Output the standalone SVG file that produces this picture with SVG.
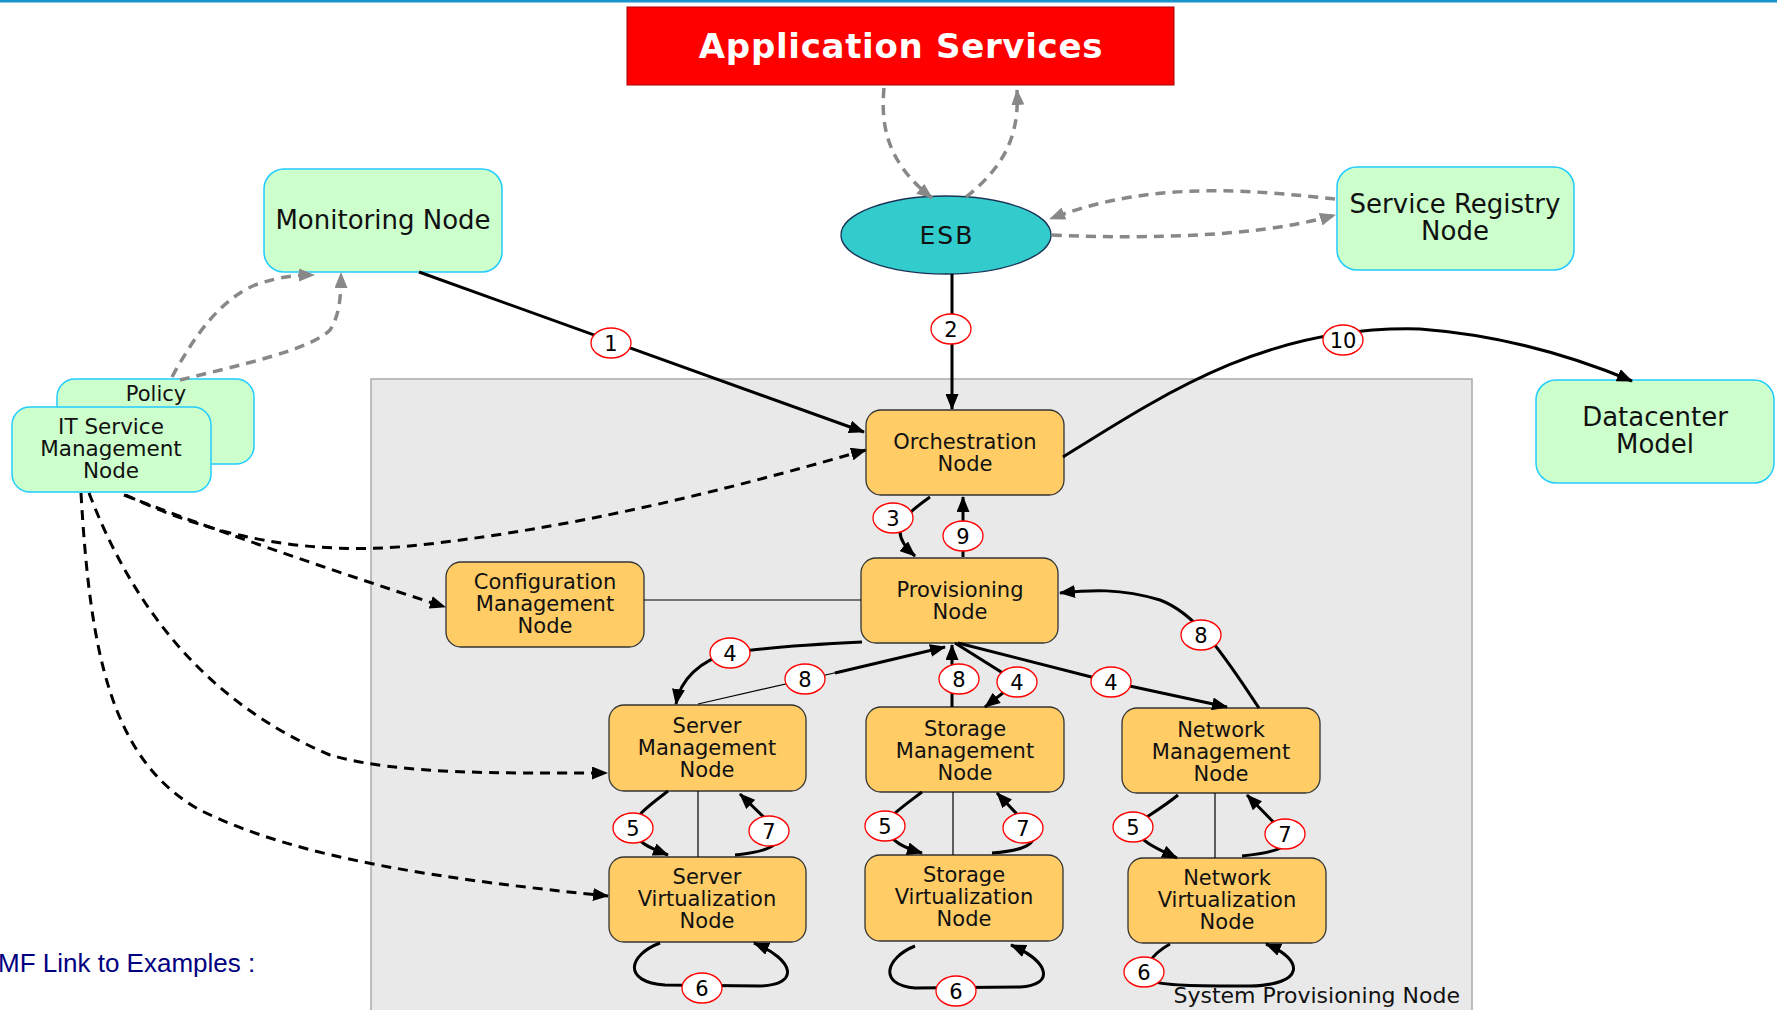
<svg xmlns="http://www.w3.org/2000/svg" width="1777" height="1010" viewBox="0 0 1777 1010">
  <style>
    .t { font-family: "DejaVu Sans", "Liberation Sans", sans-serif; font-size: 21px; text-anchor: middle; fill: #111; }
    .tg { font-size: 26px; }
    .on { fill: #ffcc66; stroke: #333; stroke-width: 1.3; }
    .gn { fill: #ccffcc; stroke: #22ccff; stroke-width: 1.5; }
    .e { fill: none; stroke: #000; stroke-width: 3; }
    .thin { fill: none; stroke: #000; stroke-width: 1.2; }
    .d { fill: none; stroke: #000; stroke-width: 3; stroke-dasharray: 10 7; }
    .g { fill: none; stroke: #888; stroke-width: 3.5; stroke-dasharray: 10 7; }
    .lb ellipse { fill: #fff; stroke: #ff0000; stroke-width: 1.3; }
    .lb text { font-family: "DejaVu Sans", "Liberation Sans", sans-serif; font-size: 21px; text-anchor: middle; fill: #000; }
  </style>
  <defs>
    <marker id="ah" markerUnits="userSpaceOnUse" markerWidth="17" markerHeight="13" refX="15" refY="6.5" orient="auto">
      <path d="M0,0 L16,6.5 L0,13 z" fill="#000"/>
    </marker>
    <marker id="ahg" markerUnits="userSpaceOnUse" markerWidth="17" markerHeight="13" refX="15" refY="6.5" orient="auto">
      <path d="M0,0 L16,6.5 L0,13 z" fill="#888"/>
    </marker>
  </defs>

  <rect width="1777" height="1010" fill="#fff"/>
  <rect x="0" y="0" width="1777" height="2.5" fill="#1a94cc"/>

  <!-- system provisioning container -->
  <g id="system-provisioning">
    <rect x="371" y="379" width="1101" height="640" fill="#e9e9e9" stroke="#aaa" stroke-width="1.5"/>
    <text class="t" x="1460" y="1003" style="text-anchor:end;font-size:22px">System Provisioning Node</text>
  </g>

  <!-- outer nodes -->
  <g id="app-services">
    <rect x="627" y="7" width="547" height="78" fill="#ff0000" stroke="#aa0000" stroke-width="1"/>
    <text x="901" y="58" style="font-family:'DejaVu Sans','Liberation Sans',sans-serif;font-size:34px;letter-spacing:0.7px;font-weight:bold;fill:#fff;text-anchor:middle">Application Services</text>
  </g>
  <g id="esb">
    <ellipse cx="946" cy="235" rx="105" ry="39" fill="#33cccc" stroke="#1a3355" stroke-width="1.3"/>
    <text class="t" x="947" y="244" style="font-size:25px;letter-spacing:2px">ESB</text>
  </g>
  <g id="monitoring">
    <rect class="gn" x="264" y="169" width="238" height="103" rx="20"/>
    <text class="t tg" x="383" y="229">Monitoring Node</text>
  </g>
  <g id="service-registry">
    <rect class="gn" x="1337" y="167" width="237" height="103" rx="20"/>
    <text class="t tg" x="1455" y="213">Service Registry<tspan x="1455" dy="27">Node</tspan></text>
  </g>
  <g id="datacenter-model">
    <rect class="gn" x="1536" y="380" width="238" height="103" rx="20"/>
    <text class="t tg" x="1655" y="426">Datacenter<tspan x="1655" dy="27">Model</tspan></text>
  </g>
  <g id="policy">
    <rect class="gn" x="57" y="379" width="197" height="85" rx="18"/>
    <text class="t" x="156" y="401">Policy</text>
  </g>
  <g id="it-service-mgmt">
    <rect class="gn" x="12" y="407" width="199" height="85" rx="18"/>
    <text class="t" x="111" y="434" style="font-size:21.5px">IT Service<tspan x="111" dy="22">Management</tspan><tspan x="111" dy="22">Node</tspan></text>
  </g>

  <!-- provisioning nodes -->
  <g id="orchestration">
    <rect class="on" x="866" y="410" width="198" height="85" rx="15"/>
    <text class="t" x="965" y="449">Orchestration<tspan x="965" dy="22">Node</tspan></text>
  </g>
  <g id="provisioning">
    <rect class="on" x="861" y="558" width="197" height="85" rx="15"/>
    <text class="t" x="960" y="597">Provisioning<tspan x="960" dy="22">Node</tspan></text>
  </g>
  <g id="config-mgmt">
    <rect class="on" x="446" y="562" width="198" height="85" rx="15"/>
    <text class="t" x="545" y="589">Configuration<tspan x="545" dy="22">Management</tspan><tspan x="545" dy="22">Node</tspan></text>
  </g>
  <g id="server-mgmt">
    <rect class="on" x="609" y="705" width="197" height="86" rx="15"/>
    <text class="t" x="707" y="733">Server<tspan x="707" dy="22">Management</tspan><tspan x="707" dy="22">Node</tspan></text>
  </g>
  <g id="storage-mgmt">
    <rect class="on" x="866" y="707" width="198" height="85" rx="15"/>
    <text class="t" x="965" y="736">Storage<tspan x="965" dy="22">Management</tspan><tspan x="965" dy="22">Node</tspan></text>
  </g>
  <g id="network-mgmt">
    <rect class="on" x="1122" y="708" width="198" height="85" rx="15"/>
    <text class="t" x="1221" y="737">Network<tspan x="1221" dy="22">Management</tspan><tspan x="1221" dy="22">Node</tspan></text>
  </g>
  <g id="server-virt">
    <rect class="on" x="609" y="857" width="197" height="85" rx="15"/>
    <text class="t" x="707" y="884">Server<tspan x="707" dy="22">Virtualization</tspan><tspan x="707" dy="22">Node</tspan></text>
  </g>
  <g id="storage-virt">
    <rect class="on" x="865" y="855" width="198" height="86" rx="15"/>
    <text class="t" x="964" y="882">Storage<tspan x="964" dy="22">Virtualization</tspan><tspan x="964" dy="22">Node</tspan></text>
  </g>
  <g id="network-virt">
    <rect class="on" x="1128" y="858" width="198" height="85" rx="15"/>
    <text class="t" x="1227" y="885">Network<tspan x="1227" dy="22">Virtualization</tspan><tspan x="1227" dy="22">Node</tspan></text>
  </g>

  <!-- connectors -->
  <g id="connectors">
    <!-- grey service-bus traffic -->
    <path class="g" d="M884,88 C880,130 890,165 932,198" marker-end="url(#ahg)"/>
    <path class="g" d="M966,197 C1000,170 1020,140 1017,90" marker-end="url(#ahg)"/>
    <path class="g" d="M1335,199 C1250,190 1150,180 1050,219" marker-end="url(#ahg)"/>
    <path class="g" d="M1052,235 C1120,238 1250,240 1335,215" marker-end="url(#ahg)"/>
    <path class="g" d="M172,377 C195,335 220,300 255,285 C280,276 300,275 314,275" marker-end="url(#ahg)"/>
    <path class="g" d="M180,380 C240,365 310,350 330,330 C340,315 341,295 341,273" marker-end="url(#ahg)"/>

    <!-- IT service management links -->
    <path class="d" d="M126,495 C230,545 330,555 420,545 C600,525 760,480 866,450" marker-end="url(#ah)"/>
    <path class="d" d="M124,495 C200,525 330,570 445,607" marker-end="url(#ah)"/>
    <path class="d" d="M89,493 C130,600 200,700 330,755 C400,775 500,773 607,773" marker-end="url(#ah)"/>
    <path class="d" d="M81,493 C90,650 110,760 200,810 C300,860 450,880 608,896" marker-end="url(#ah)"/>

    <!-- numbered flow -->
    <path class="e" d="M419,272 L864,432" marker-end="url(#ah)"/>
    <path class="e" d="M952,274 L952,409" marker-end="url(#ah)"/>
    <path class="e" d="M930,497 C905,515 885,530 915,556" marker-end="url(#ah)"/>
    <path class="e" d="M963,557 L963,497" marker-end="url(#ah)"/>
    <path class="e" d="M1063,457 C1170,390 1270,325 1420,329 C1500,335 1570,355 1632,381" marker-end="url(#ah)"/>
    <path class="thin" d="M644,600 L861,600"/>

    <path class="e" d="M862,642 C800,645 760,648 730,653 C700,660 680,680 676,704" marker-end="url(#ah)"/>
    <path class="thin" d="M698,704 L843,671"/>
    <path class="e" d="M835,673 L945,647" marker-end="url(#ah)"/>
    <path class="e" d="M952,707 L952,645" marker-end="url(#ah)"/>
    <path class="e" d="M955,643 L1017,682 L985,707" marker-end="url(#ah)"/>
    <path class="e" d="M958,643 L1111,682 L1227,707" marker-end="url(#ah)"/>
    <path class="e" d="M1259,708 C1230,665 1200,615 1160,600 C1120,588 1090,590 1060,593" marker-end="url(#ah)"/>

    <!-- management / virtualization loops -->
    <path class="e" d="M668,791 C650,805 635,815 633,828 C635,842 650,848 668,855" marker-end="url(#ah)"/>
    <path class="thin" d="M698,791 L698,857"/>
    <path class="e" d="M735,855 C765,852 788,845 775,828 L740,794" marker-end="url(#ah)"/>
    <path class="e" d="M660,943 C628,955 622,982 665,985 L760,986 C800,985 795,960 754,943" marker-end="url(#ah)"/>

    <path class="e" d="M922,792 C905,805 890,815 885,826 C890,842 905,848 922,853" marker-end="url(#ah)"/>
    <path class="thin" d="M953,792 L953,855"/>
    <path class="e" d="M992,853 C1020,851 1042,845 1030,828 L997,793" marker-end="url(#ah)"/>
    <path class="e" d="M915,946 C885,958 878,985 915,988 L1020,987 C1055,985 1050,962 1011,945" marker-end="url(#ah)"/>

    <path class="e" d="M1178,795 C1160,810 1140,820 1133,827 C1140,842 1160,850 1177,858" marker-end="url(#ah)"/>
    <path class="thin" d="M1215,793 L1215,858"/>
    <path class="e" d="M1242,856 C1270,853 1295,848 1285,834 L1247,795" marker-end="url(#ah)"/>
    <path class="e" d="M1170,944 C1150,955 1140,972 1150,980 C1160,986 1200,986 1250,986 C1305,985 1305,960 1266,944" marker-end="url(#ah)"/>

    <!-- step labels -->
    <g class="lb">
      <ellipse cx="611" cy="343" rx="20" ry="15"/><text x="611" y="351">1</text>
      <ellipse cx="951" cy="329" rx="20" ry="15"/><text x="951" y="337">2</text>
      <ellipse cx="893" cy="518" rx="20" ry="15"/><text x="893" y="526">3</text>
      <ellipse cx="963" cy="536" rx="20" ry="15"/><text x="963" y="544">9</text>
      <ellipse cx="1343" cy="340" rx="20" ry="15"/><text x="1343" y="348">10</text>
      <ellipse cx="730" cy="653" rx="20" ry="15"/><text x="730" y="661">4</text>
      <ellipse cx="805" cy="679" rx="20" ry="15"/><text x="805" y="687">8</text>
      <ellipse cx="959" cy="679" rx="20" ry="15"/><text x="959" y="687">8</text>
      <ellipse cx="1017" cy="682" rx="20" ry="15"/><text x="1017" y="690">4</text>
      <ellipse cx="1111" cy="682" rx="20" ry="15"/><text x="1111" y="690">4</text>
      <ellipse cx="1201" cy="635" rx="20" ry="15"/><text x="1201" y="643">8</text>
      <ellipse cx="633" cy="828" rx="20" ry="15"/><text x="633" y="836">5</text>
      <ellipse cx="769" cy="831" rx="20" ry="15"/><text x="769" y="839">7</text>
      <ellipse cx="702" cy="988" rx="20" ry="15"/><text x="702" y="996">6</text>
      <ellipse cx="885" cy="826" rx="20" ry="15"/><text x="885" y="834">5</text>
      <ellipse cx="1023" cy="828" rx="20" ry="15"/><text x="1023" y="836">7</text>
      <ellipse cx="956" cy="991" rx="20" ry="15"/><text x="956" y="999">6</text>
      <ellipse cx="1133" cy="827" rx="20" ry="15"/><text x="1133" y="835">5</text>
      <ellipse cx="1285" cy="834" rx="20" ry="15"/><text x="1285" y="842">7</text>
      <ellipse cx="1144" cy="972" rx="20" ry="15"/><text x="1144" y="980">6</text>
    </g>
  </g>

  <text x="-2" y="972" style="font-family:'Liberation Sans',Arial,sans-serif;font-size:26px;fill:#000080">MF Link to Examples :</text>
</svg>
